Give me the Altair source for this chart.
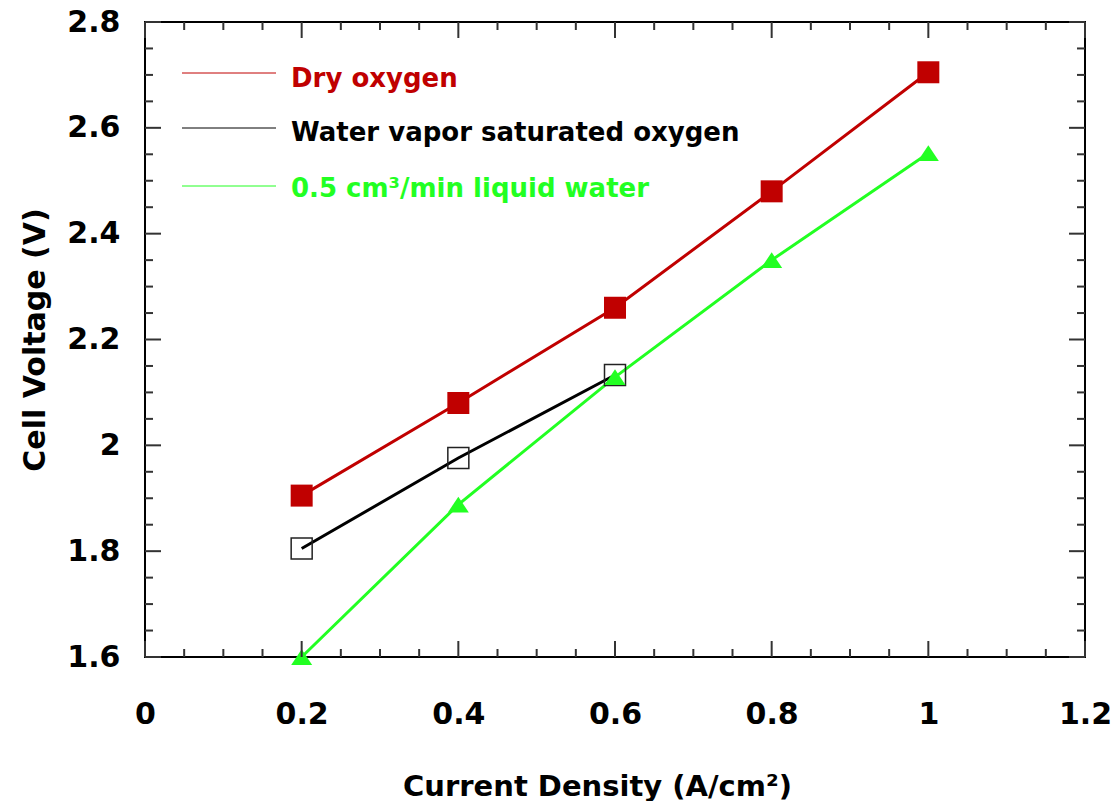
import altair as alt
import pandas as pd

# ---- data ----
current = [0.2, 0.4, 0.6, 0.8, 1.0]
dry_oxygen = [1.905, 2.080, 2.260, 2.480, 2.705]
vapor_current = [0.2, 0.4, 0.6]
vapor_oxygen = [1.805, 1.976, 2.133]
liquid_water = [1.600, 1.888, 2.129, 2.350, 2.552]

series_labels = ["Dry oxygen", "Water vapor saturated oxygen", "0.5 cm³/min liquid water"]
series_colors = ["#C00000", "#000000", "#22FF22"]

x_major = [0, 0.2, 0.4, 0.6, 0.8, 1.0, 1.2]
x_minor = [0.05, 0.1, 0.15, 0.25, 0.3, 0.35, 0.45, 0.5, 0.55, 0.65, 0.7, 0.75,
           0.85, 0.9, 0.95, 1.05, 1.1, 1.15]
y_major = [1.6, 1.8, 2.0, 2.2, 2.4, 2.6, 2.8]
y_minor = [1.65, 1.7, 1.75, 1.85, 1.9, 1.95, 2.05, 2.1, 2.15, 2.25, 2.3, 2.35,
           2.45, 2.5, 2.55, 2.65, 2.7, 2.75]

W, H = 940, 635
FONT = "DejaVu Sans"
TICK_COLOR = "#333333"

xs = alt.Scale(domain=[0, 1.2], nice=False, zero=False)
ys = alt.Scale(domain=[1.6, 2.8], nice=False, zero=False)

x_axis = alt.Axis(values=x_major, format="~g", ticks=False, domain=False, grid=False,
                  labelFont=FONT, labelFontSize=30, labelFontWeight="bold", labelColor="black",
                  labelPadding=42, labelFlush=False, labelOverlap=False,
                  title="Current Density (A/cm²)", titleFont=FONT, titleFontSize=29,
                  titleFontWeight="bold", titleColor="black", titleX=452, titleY=138,
                  titleBaseline="alphabetic", titleAlign="center")
y_axis = alt.Axis(values=y_major, format="~g", ticks=False, domain=False, grid=False,
                  labelFont=FONT, labelFontSize=30, labelFontWeight="bold", labelColor="black",
                  labelPadding=25, labelFlush=False, labelOverlap=False,
                  title="Cell Voltage (V)", titleFont=FONT, titleFontSize=30,
                  titleFontWeight="bold", titleColor="black", titleX=-101, titleY=H / 2,
                  titleAngle=-90, titleBaseline="alphabetic", titleAlign="center")

def X(field):
    return alt.X(field, scale=xs, axis=x_axis)

def Y(field):
    return alt.Y(field, scale=ys, axis=y_axis)

dry_df = pd.DataFrame({"x": current, "y": dry_oxygen})
vap_df = pd.DataFrame({"x": vapor_current, "y": vapor_oxygen})
liq_df = pd.DataFrame({"x": current, "y": liquid_water})

layers = []

# ---- lines ----
dry_line = alt.Chart(dry_df).mark_line(color=series_colors[0], strokeWidth=3).encode(
    x=X("x:Q"), y=Y("y:Q"))
vap_line = alt.Chart(vap_df).mark_line(color=series_colors[1], strokeWidth=3).encode(
    x=X("x:Q"), y=Y("y:Q"))
liq_line = alt.Chart(liq_df).mark_line(color=series_colors[2], strokeWidth=3).encode(
    x=X("x:Q"), y=Y("y:Q"))

# ---- markers ----
dry_pts = alt.Chart(dry_df).mark_point(shape="square", size=484, filled=True,
                                       color=series_colors[0], opacity=1).encode(
    x=X("x:Q"), y=Y("y:Q"))
vap_pts = alt.Chart(vap_df).mark_point(shape="square", size=441, filled=False,
                                       color="#222222", strokeWidth=1.5, opacity=1).encode(
    x=X("x:Q"), y=Y("y:Q"))
liq_pts = alt.Chart(liq_df).mark_point(shape="M0,-0.75L1,0.75L-1,0.75Z", size=441, filled=True,
                                       color=series_colors[2], opacity=1).encode(
    x=X("x:Q"), y=Y("y:Q"))

layers += [dry_line, vap_line, liq_line, dry_pts, vap_pts, liq_pts]

# ---- inward ticks on all four sides ----
def xticks(vals, length):
    df = pd.DataFrame({"x": vals})
    bottom = alt.Chart(df).mark_rule(color=TICK_COLOR, strokeWidth=2).encode(
        x=X("x:Q"), y=alt.value(H), y2=alt.value(H - length))
    top = alt.Chart(df).mark_rule(color=TICK_COLOR, strokeWidth=2).encode(
        x=X("x:Q"), y=alt.value(0), y2=alt.value(length))
    return [bottom, top]

def yticks(vals, length):
    df = pd.DataFrame({"y": vals})
    left = alt.Chart(df).mark_rule(color=TICK_COLOR, strokeWidth=2).encode(
        y=Y("y:Q"), x=alt.value(0), x2=alt.value(length))
    right = alt.Chart(df).mark_rule(color=TICK_COLOR, strokeWidth=2).encode(
        y=Y("y:Q"), x=alt.value(W), x2=alt.value(W - length))
    return [left, right]

layers += xticks(x_major, 16) + xticks(x_minor, 8) + yticks(y_major, 16) + yticks(y_minor, 8)

# ---- in-plot legend ----
legend_line_y = [51, 106, 164]
legend_text_y = [65, 119, 175]
for label, color, ly, ty in zip(series_labels, series_colors, legend_line_y, legend_text_y):
    ldf = pd.DataFrame({"label": [label]})
    layers.append(alt.Chart(ldf).mark_rule(color=color, strokeWidth=1).encode(
        x=alt.value(37), x2=alt.value(131), y=alt.value(ly)))
    layers.append(alt.Chart(ldf).mark_text(align="left", baseline="alphabetic", font=FONT,
                                           fontSize=26, fontWeight="bold", color=color).encode(
        x=alt.value(146), y=alt.value(ty), text="label:N"))

chart = alt.layer(*layers).properties(
    width=W, height=H,
    autosize=alt.AutoSizeParams(type="none"),
    padding={"left": 145, "top": 22, "right": 28, "bottom": 144},
    background="white",
).configure_view(stroke="black", strokeWidth=2)

chart.save("out.html", embed_options={"renderer": "svg", "actions": False})
